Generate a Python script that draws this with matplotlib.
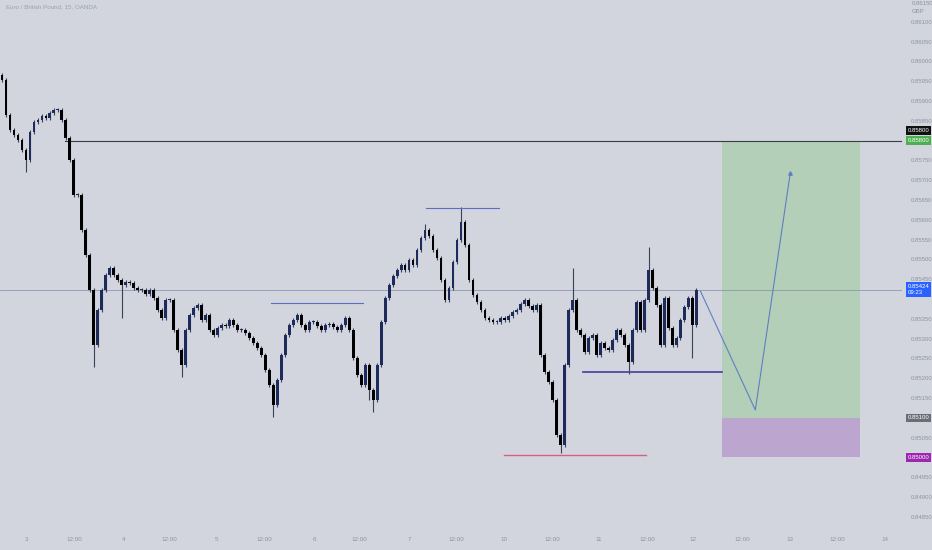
import numpy as np
import matplotlib
matplotlib.use('Agg')
import matplotlib.pyplot as plt
import matplotlib.transforms as mtransforms

plt.rcParams['font.family'] = ['Liberation Sans', 'DejaVu Sans']

#=============== data ===============
open0 = 0.85965
closes = [
    0.85953, 0.85865, 0.85827, 0.85814, 0.85802, 0.85776, 0.85751, 0.85822, 0.85847, 0.85852,
    0.85862, 0.85857, 0.85870, 0.85877, 0.85877, 0.85852, 0.85807, 0.85751, 0.85663, 0.85663,
    0.85574, 0.85511, 0.85423, 0.85284, 0.85372, 0.85423, 0.85461, 0.85478, 0.85461, 0.85448,
    0.85436, 0.85443, 0.85441, 0.85428, 0.85423, 0.85423, 0.85413, 0.85423, 0.85403, 0.85372,
    0.85352, 0.85398, 0.85398, 0.85322, 0.85271, 0.85234, 0.85322, 0.85360, 0.85377, 0.85385,
    0.85347, 0.85360, 0.85322, 0.85309, 0.85327, 0.85335, 0.85332, 0.85347, 0.85335, 0.85322,
    0.85322, 0.85314, 0.85302, 0.85289, 0.85276, 0.85259, 0.85221, 0.85183, 0.85133, 0.85196,
    0.85259, 0.85309, 0.85335, 0.85347, 0.85360, 0.85335, 0.85322, 0.85342, 0.85342, 0.85332,
    0.85322, 0.85335, 0.85337, 0.85330, 0.85322, 0.85335, 0.85352, 0.85322, 0.85251, 0.85208,
    0.85183, 0.85234, 0.85170, 0.85145, 0.85234, 0.85342, 0.85403, 0.85436, 0.85458, 0.85473,
    0.85486, 0.85473, 0.85499, 0.85486, 0.85524, 0.85554, 0.85574, 0.85559, 0.85524, 0.85504,
    0.85448, 0.85398, 0.85428, 0.85494, 0.85549, 0.85595, 0.85537, 0.85448, 0.85410, 0.85393,
    0.85372, 0.85352, 0.85347, 0.85342, 0.85342, 0.85352, 0.85347, 0.85357, 0.85367, 0.85372,
    0.85388, 0.85398, 0.85383, 0.85372, 0.85385, 0.85259, 0.85216, 0.85191, 0.85145, 0.85057,
    0.85032, 0.85234, 0.85372, 0.85398, 0.85322, 0.85309, 0.85266, 0.85302, 0.85309, 0.85259,
    0.85289, 0.85276, 0.85271, 0.85297, 0.85322, 0.85309, 0.85284, 0.85241, 0.85322, 0.85393,
    0.85322, 0.85398, 0.85473, 0.85428, 0.85385, 0.85284, 0.85403, 0.85327, 0.85284, 0.85302,
    0.85347, 0.85380, 0.85403, 0.85335, 0.85424,
]
# long wicks
spike_hi_bars = [0, 106, 115, 143, 162]
spike_hi_prices = [0.85965, 0.85590, 0.85633, 0.85478, 0.85532]
spike_lo_bars = [6, 23, 30, 45, 68, 92, 93, 140, 157, 173]
spike_lo_prices = [0.85721, 0.85229, 0.85352, 0.85203, 0.85102, 0.85145, 0.85115, 0.85011, 0.85210, 0.85251]

level_top = 0.85800      # resistance / target
level_last = 0.85424     # current price
level_stop = 0.85100
level_entry_low = 0.85000
hline_a = 0.85390        # blue range top (left)
hline_b = 0.85630        # blue swing high
hline_c = 0.85216        # purple support
hline_d = 0.85006        # pink swing low
proj_x = [175, 188.75, 197.5]
proj_y = [0.85420, 0.85120, 0.85718]

x_tick_pos = [6.25, 18.25, 30.5, 42, 53.75, 65.75, 78.25, 89.5, 102, 113.75,
              125.75, 138, 149.5, 161.75, 173.25, 185.5, 197.5, 209.25, 221.25]
x_tick_labels = ['3', '12:00', '4', '12:00', '5', '12:00', '6', '12:00', '7', '12:00',
                 '10', '12:00', '11', '12:00', '12', '12:00', '13', '12:00', '14']

#=============== figure ===============
BG = '#d2d5dd'
fig = plt.figure(figsize=(9.32, 5.5), dpi=100)
fig.patch.set_facecolor(BG)
ax = fig.add_axes([0, 20 / 550, 902 / 932, 530 / 550])
ax.set_facecolor(BG)

n = len(closes)
opens = [open0] + closes[:-1]
highs = [max(o, c) + 0.00005 for o, c in zip(opens, closes)]
lows = [min(o, c) - 0.00005 for o, c in zip(opens, closes)]
for b, p in zip(spike_hi_bars, spike_hi_prices):
    highs[b] = max(highs[b], p)
for b, p in zip(spike_lo_bars, spike_lo_prices):
    lows[b] = min(lows[b], p)

xs = np.arange(n)
up = [c >= o for o, c in zip(opens, closes)]
ax.vlines(xs, lows, highs, color='#3a4258', lw=0.8, zorder=3)
bottoms = [min(o, c) for o, c in zip(opens, closes)]
heights = [max(abs(c - o), 0.00002) for o, c in zip(opens, closes)]
cols = ['#1c2a5c' if u else '#000000' for u in up]
ax.bar(xs, heights, bottom=bottoms, width=0.7, color=cols, lw=0, zorder=4)

# position box
ax.fill_between([180.5, 215], level_stop, level_top, color='#b3cfb7', lw=0, zorder=1)
ax.fill_between([180.5, 215], level_entry_low, level_stop, color='#bca6cf', lw=0, zorder=1)

# horizontal drawings
ax.plot([15.75, 226], [level_top, level_top], color='#3a3d44', lw=0.8, zorder=2)
ax.axhline(level_last, color='#8d97b3', lw=0.6, zorder=2)
ax.plot([67.5, 90.5], [hline_a, hline_a], color='#5c6fc4', lw=0.8, zorder=5)
ax.plot([106.25, 124.5], [hline_b, hline_b], color='#5c6fc4', lw=0.8, zorder=5)
ax.plot([145.5, 180.5], [hline_c, hline_c], color='#483c9c', lw=1.2, zorder=5)
ax.plot([125.75, 161.25], [hline_d, hline_d], color='#d8607c', lw=1.0, zorder=5)

# projected path
ax.plot(proj_x, proj_y, color='#5f7fc4', lw=0.8, zorder=5)
ax.plot(proj_x[-1], proj_y[-1], marker='^', ms=2.5, color='#5f7fc4', zorder=5)

ax.set_xlim(-0.5, 902 / 4)
ax.set_ylim(0.848169, 0.861552)
for s in ax.spines.values():
    s.set_visible(False)

# price scale
yt = [round(v, 4) for v in np.arange(0.8485, 0.86101, 0.0005)]
hidden = [0.8580, 0.8540, 0.8510, 0.8500]
yt = [v for v in yt if all(abs(v - h) > 1e-6 for h in hidden)]
ax.yaxis.tick_right()
ax.set_yticks(yt)
ax.set_yticklabels(['%.5f' % v for v in yt])
ax.tick_params(axis='y', length=0, pad=6, labelsize=4.3, labelcolor='#8e939e')
ax.set_xticks(x_tick_pos)
ax.set_xticklabels(x_tick_labels)
ax.tick_params(axis='x', length=0, pad=5, labelsize=4.5, labelcolor='#8e939e')

trans = mtransforms.blended_transform_factory(ax.transAxes, ax.transData)
def price_tag(y, text, fc, dy=0.0):
    ax.text(1.0065, y + dy, text, transform=trans, fontsize=4.3, color='white',
            va='center', ha='left', linespacing=1.3, zorder=10, clip_on=False,
            bbox=dict(boxstyle='square,pad=0.3', fc=fc, ec='none'))

price_tag(level_top, '0.85800', '#111111', dy=0.00025)
price_tag(level_top, '0.85800', '#4caf50')
price_tag(level_last, '0.85424\n09:23', '#2962ff')
price_tag(level_stop, '0.85100', '#6b6e76')
price_tag(level_entry_low, '0.85000', '#9c27b0')

fig.text(0.9785, 0.998, '0.86150', fontsize=4.3, color='#8e939e', ha='left', va='top')
fig.text(0.9785, 0.984, 'GBP', fontsize=4.3, color='#8e939e', ha='left', va='top')
fig.text(0.006, 0.992, 'Euro / British Pound, 15, OANDA', fontsize=4.5,
         color='#9aa0ab', ha='left', va='top')

fig.savefig('out.png', dpi=100, facecolor=BG)
